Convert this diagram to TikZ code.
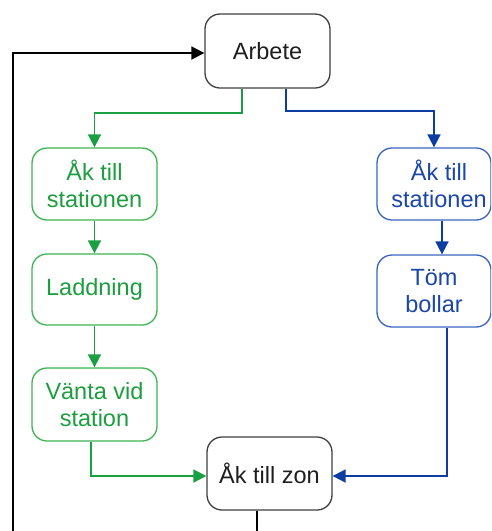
\documentclass[tikz,border=0pt]{standalone}
\usepackage{fontspec}
\setmainfont{Liberation Sans}
\usetikzlibrary{arrows.meta}
\definecolor{grnline}{HTML}{1AA043}
\definecolor{grnbox}{HTML}{3DB553}
\definecolor{grntext}{HTML}{1C9E3E}
\definecolor{bluline}{HTML}{0B3DA2}
\definecolor{blubox}{HTML}{3A64C2}
\definecolor{blutext}{HTML}{1A47A8}
\definecolor{greybox}{HTML}{404040}
\definecolor{greytext}{HTML}{1E1E1E}
\tikzset{
  box/.style={draw, rounded corners=15pt, line width=1.3pt, fill=white,
    align=center, inner sep=0pt, font=\fontsize{23.5}{27}\selectfont},
  kbox/.style={box, draw=greybox, text=greytext},
  gbox/.style={box, draw=grnbox, text=grntext, minimum width=125pt},
  bbox/.style={box, draw=blubox, text=blutext, minimum width=114pt},
  conn/.style={line width=1.8pt, -{Triangle[length=13pt,width=13pt]}},
  kline/.style={conn, draw=black},
  gline/.style={conn, draw=grnline},
  bline/.style={conn, draw=bluline}
}
\begin{document}
\begin{tikzpicture}[x=1pt,y=-1pt]
\useasboundingbox (0,0) rectangle (491,531);
\clip (0,0) rectangle (491,531);

% main states
\node[kbox, minimum width=125pt, minimum height=74pt] (arb) at (267.5,51) {Arbete};
\node[kbox, minimum width=125pt, minimum height=73pt] (zon) at (269.5,473.5) {Åk till zon};

% charging branch
\node[gbox, minimum height=72pt] (g1) at (94.5,184) {Åk till\\stationen};
\node[gbox, minimum height=71pt] (g2) at (94.5,289.5) {Laddning};
\node[gbox, minimum height=73pt] (g3) at (94.5,404.5) {Vänta vid\\station};

% emptying branch
\node[bbox, minimum height=72pt,
  label={[blutext, xshift=5pt, font=\fontsize{23.5}{27}\selectfont, align=center]center:Åk till\\stationen}] (b1) at (434,184) {};
\node[bbox, minimum height=72pt] (b2) at (434,291) {Töm\\bollar};

% connectors
\draw[gline] ([xshift=-25.5pt]arb.south) -- ++(0,24) -| (g1.north);
\draw[bline] ([xshift=18.5pt]arb.south) -- ++(0,22) -| (b1.north);
\draw[gline] (g1.south) -- (g2.north);
\draw[gline] (g2.south) -- (g3.north);
\draw[gline] ([xshift=-3.5pt]g3.south) |- ([yshift=-2.5pt]zon.west);
\draw[bline] ([xshift=8pt]b1.south) -- ([xshift=8pt]b2.north);
\draw[bline] ([xshift=13pt]b2.south) |- ([yshift=-2.5pt]zon.east);

% loop back to work
\coordinate (lp) at (13,560);
\draw[kline] ([xshift=-12.5pt]zon.south) |- (lp) |- ([yshift=-2pt]arb.west);
\end{tikzpicture}
\end{document}
